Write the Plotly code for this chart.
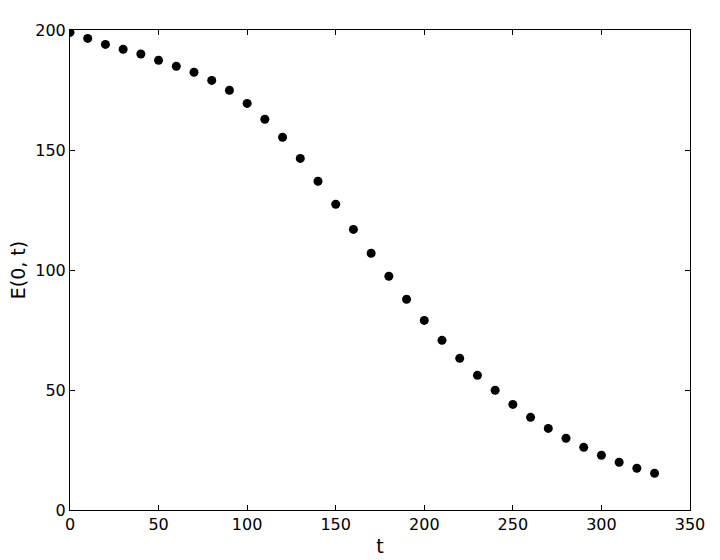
import plotly.graph_objects as go

# Sample times and E(0, t) values
t = [0, 10, 20, 30, 40, 50, 60, 70, 80, 90, 100, 110, 120, 130, 140, 150, 160,
     170, 180, 190, 200, 210, 220, 230, 240, 250, 260, 270, 280, 290, 300, 310, 320, 330]
E = [199.0, 196.5, 194.0, 192.0, 190.0, 187.4, 184.9, 182.4, 179.0, 174.9, 169.4,
     162.8, 155.3, 146.5, 137.0, 127.4, 116.9, 107.0, 97.4, 87.8, 79.0, 70.7, 63.2,
     56.1, 49.9, 44.0, 38.6, 34.0, 29.9, 26.1, 22.8, 19.9, 17.4, 15.3]

x_ticks = [0, 50, 100, 150, 200, 250, 300, 350]
y_ticks = [0, 50, 100, 150, 200]

fig = go.Figure()
fig.add_trace(go.Scatter(x=t, y=E, mode="markers",
                         marker=dict(color="black", size=9),
                         showlegend=False))

axis_style = dict(showline=True, linecolor="black", linewidth=1, mirror="ticks",
                  ticks="inside", ticklen=5, tickcolor="black", tickwidth=1,
                  showgrid=False, zeroline=False, automargin=False)

fig.update_xaxes(range=[0, 350], tickvals=x_ticks,
                 title=dict(text="t", standoff=6), **axis_style)
fig.update_yaxes(range=[0, 200], tickvals=y_ticks,
                 title=dict(text="E(0, t)", standoff=4), **axis_style)

fig.update_layout(width=720, height=560,
                  margin=dict(l=70, r=30, t=30, b=50),
                  plot_bgcolor="white", paper_bgcolor="white",
                  font=dict(family="DejaVu Sans", size=16, color="black"))

# drop the browser's default body margin so the figure fills the window exactly
fig.write_html("out.html", config={"displayModeBar": False},
               post_script="document.body.style.margin='0';document.body.style.overflow='hidden';")
